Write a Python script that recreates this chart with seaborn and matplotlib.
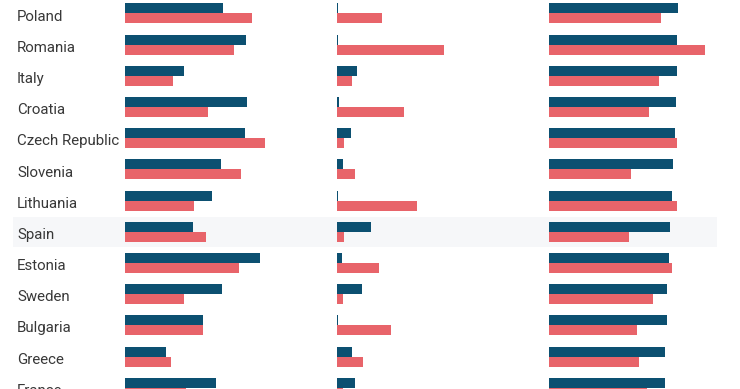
import seaborn as sns
import matplotlib.pyplot as plt
import pandas as pd
from matplotlib.patches import Rectangle
from matplotlib.transforms import blended_transform_factory

# Données
countries = ["Poland", "Romania", "Italy", "Croatia", "Czech Republic", "Slovenia",
             "Lithuania", "Spain", "Estonia", "Sweden", "Bulgaria", "Greece", "France"]

panel1_blue = [98.3, 120.7, 59, 122, 120.3, 96.3, 87, 67.7, 135, 96.7, 78, 41, 91]
panel1_red = [127, 109, 48, 83, 140.3, 116.3, 68.7, 81, 113.7, 59.3, 78, 46, 61]

panel2_blue = [0.7, 1.3, 20, 2.3, 14.3, 6.3, 1, 34, 4.7, 24.7, 0.7, 15, 18]
panel2_red = [45.3, 106.7, 15.3, 67.3, 7, 17.7, 79.7, 7, 42, 6.3, 53.7, 26.3, 6]

panel3_blue = [129, 128.3, 127.7, 126.7, 126, 124.3, 123.3, 120.7, 119.7, 118.3, 118.3, 116, 115.7]
panel3_red = [112.3, 156, 109.7, 100.3, 128.3, 82.3, 128.3, 79.7, 123, 104.3, 88.3, 90.3, 97.7]

highlight = "Spain"

BLUE = "#0c5071"
RED = "#e8646a"
W, H = 740, 389

sns.set_style("white")
plt.rcParams['font.family'] = ['Roboto', 'DejaVu Sans']

fig = plt.figure(figsize=(W / 100, H / 100), dpi=100)

# (gauche en px, largeur en px)
panels = [
    (125, 205, panel1_blue, panel1_red),
    (337, 205, panel2_blue, panel2_red),
    (549, 170, panel3_blue, panel3_red),
]

axes = []
for left, width, blue, red in panels:
    ax = fig.add_axes([left / W, 0, width / W, 1])
    df = pd.DataFrame({
        "country": countries * 2,
        "value": blue + red,
        "series": ["blue"] * len(countries) + ["red"] * len(countries),
    })
    sns.barplot(data=df, y="country", x="value", hue="series", orient="h",
                palette={"blue": BLUE, "red": RED}, width=0.64, saturation=1,
                linewidth=0, legend=False, ax=ax)
    ax.set_xlim(0, width)
    ax.set_ylim(12.04, -0.43)
    ax.set_facecolor("none")
    ax.axis("off")
    axes.append(ax)

# Noms des pays
tr = blended_transform_factory(fig.transFigure, axes[0].transData)
for i, c in enumerate(countries):
    axes[0].text(17 / W, i + 0.1, c, transform=tr, ha="left", va="center",
                 fontsize=10.8, color="#383838", clip_on=False)

# Bande grise pour l'Espagne
i = countries.index(highlight)
fig.add_artist(Rectangle((13 / W, i - 0.47), 704 / W, 0.96, transform=tr,
                         facecolor="#f6f7f9", edgecolor="none", zorder=-1))

plt.savefig("out.png", dpi=100)
